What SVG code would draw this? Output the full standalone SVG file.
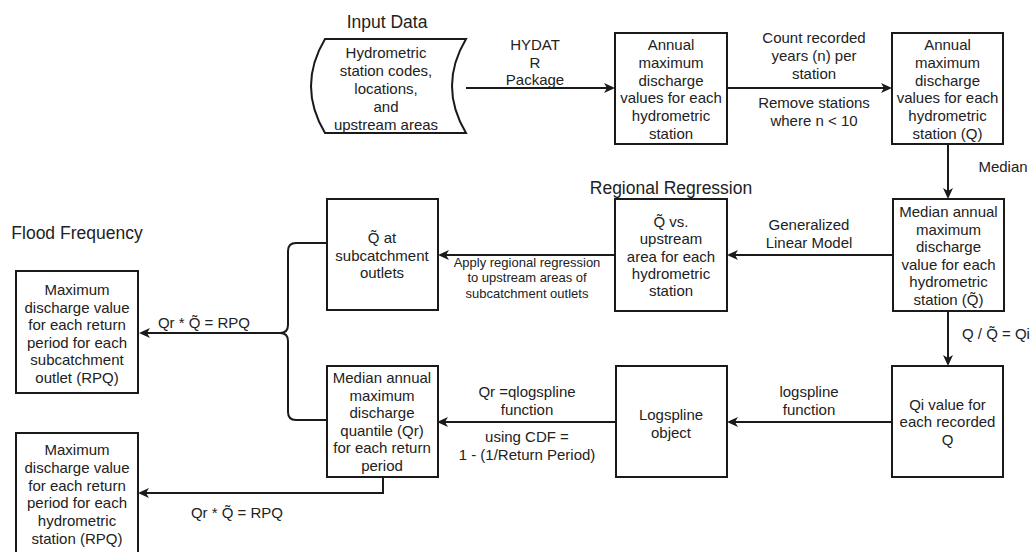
<svg xmlns="http://www.w3.org/2000/svg" width="1033" height="552" viewBox="0 0 1033 552">
<defs>
<style>
.box{fill:#fff;stroke:#1a1a1a;stroke-width:2}
.t{font-family:"Liberation Sans",Arial,sans-serif;font-size:15px;fill:#222;text-anchor:middle}
.s{font-family:"Liberation Sans",Arial,sans-serif;font-size:13px;fill:#222;text-anchor:middle}
.h{font-family:"Liberation Sans",Arial,sans-serif;font-size:17.5px;fill:#222;text-anchor:middle}
.c{fill:none;stroke:#1a1a1a;stroke-width:2;marker-end:url(#arr)}
.cn{fill:none;stroke:#1a1a1a;stroke-width:2}
</style>
<marker id="arr" markerUnits="userSpaceOnUse" markerWidth="11" markerHeight="10" refX="3" refY="5" orient="auto" viewBox="0 0 11 10">
<path d="M0,0 L11,5 L0,10 L3,5 Z" fill="#1a1a1a"/>
</marker>
</defs>
<rect width="1033" height="552" fill="#fff"/>

<g id="titles">
<text class="h" x="387" y="28">Input Data</text>
<text class="h" x="671" y="194">Regional Regression</text>
<text class="h" x="77" y="239">Flood Frequency</text>
</g>

<g id="connectors">
<path class="c" d="M466,88 H607"/>
<path class="c" d="M727,88 H884"/>
<path class="c" d="M948,144 V191"/>
<path class="c" d="M893,255 H735"/>
<path class="c" d="M615,255 H446"/>
<path class="cn" d="M327,243 H296 Q288,243 288,251 V325 Q288,333 280,333"/>
<path class="c" d="M327,420 H296 Q288,420 288,412 V341 Q288,333 280,333 H147"/>
<path class="c" d="M948,311 V358"/>
<path class="c" d="M892,422 H735"/>
<path class="c" d="M616,422 H445"/>
<path class="c" d="M383,477 V493 H146"/>
</g>

<g id="edge-labels">
<text class="t" x="535" y="50">HYDAT<tspan x="535" dy="17.5">R</tspan><tspan x="535" dy="17.5">Package</tspan></text>
<text class="t" x="814" y="43">Count recorded<tspan x="814" dy="17.8">years (n) per</tspan><tspan x="814" dy="17.8">station</tspan></text>
<text class="t" x="814" y="108">Remove stations<tspan x="814" dy="17.8">where n &lt; 10</tspan></text>
<text class="t" x="1003" y="172">Median</text>
<text class="t" x="809" y="230">Generalized<tspan x="809" dy="17.8">Linear Model</tspan></text>
<text class="s" x="527" y="266.5">Apply regional regression<tspan x="527" dy="15.5">to upstream areas of</tspan><tspan x="527" dy="15.5">subcatchment outlets</tspan></text>
<text class="t" x="204" y="328">Qr * Q̃ = RPQ</text>
<text class="t" x="962" y="339" style="text-anchor:start">Q / Q̃ = Qi</text>
<text class="t" x="809" y="397">logspline<tspan x="809" dy="17.5">function</tspan></text>
<text class="t" x="527" y="397">Qr =qlogspline<tspan x="527" dy="17.5">function</tspan></text>
<text class="t" x="527" y="442">using CDF =<tspan x="527" dy="17.8">1 - (1/Return Period)</tspan></text>
<text class="t" x="237" y="518">Qr * Q̃ = RPQ</text>
</g>

<g id="input-data">
<path class="box" d="M325,39 L466,39 Q438,86 466,133 L325,133 Q297,86 325,39 Z"/>
<text class="t" x="386" y="58">Hydrometric<tspan x="386" dy="17.9">station codes,</tspan><tspan x="386" dy="17.9">locations,</tspan><tspan x="386" dy="17.9">and</tspan><tspan x="386" dy="17.9">upstream areas</tspan></text>
</g>

<g id="annual-max">
<rect class="box" x="615" y="33" width="112" height="111"/>
<text class="t" x="671" y="50">Annual<tspan x="671" dy="17.8">maximum</tspan><tspan x="671" dy="17.8">discharge</tspan><tspan x="671" dy="17.8">values for each</tspan><tspan x="671" dy="17.8">hydrometric</tspan><tspan x="671" dy="17.8">station</tspan></text>
</g>

<g id="annual-max-q">
<rect class="box" x="892" y="33" width="111" height="111"/>
<text class="t" x="947.5" y="50">Annual<tspan x="947.5" dy="17.8">maximum</tspan><tspan x="947.5" dy="17.8">discharge</tspan><tspan x="947.5" dy="17.8">values for each</tspan><tspan x="947.5" dy="17.8">hydrometric</tspan><tspan x="947.5" dy="17.8">station (Q)</tspan></text>
</g>

<g id="median-annual">
<rect class="box" x="893" y="199" width="111" height="112"/>
<text class="t" x="948.5" y="217">Median annual<tspan x="948.5" dy="17.6">maximum</tspan><tspan x="948.5" dy="17.6">discharge</tspan><tspan x="948.5" dy="17.6">value for each</tspan><tspan x="948.5" dy="17.6">hydrometric</tspan><tspan x="948.5" dy="17.6">station (Q̃)</tspan></text>
</g>

<g id="q-vs-area">
<rect class="box" x="615" y="199" width="112" height="112"/>
<text class="t" x="671" y="227">Q̃ vs.<tspan x="671" dy="17.3">upstream</tspan><tspan x="671" dy="17.3">area for each</tspan><tspan x="671" dy="17.3">hydrometric</tspan><tspan x="671" dy="17.3">station</tspan></text>
</g>

<g id="q-subcatchment">
<rect class="box" x="327" y="199" width="111" height="111"/>
<text class="t" x="382" y="243">Q̃ at<tspan x="382" dy="17.5">subcatchment</tspan><tspan x="382" dy="17.5">outlets</tspan></text>
</g>

<g id="rpq-subcatchment">
<rect class="box" x="16" y="271" width="122" height="122"/>
<text class="t" x="77" y="295">Maximum<tspan x="77" dy="17.6">discharge value</tspan><tspan x="77" dy="17.6">for each return</tspan><tspan x="77" dy="17.6">period for each</tspan><tspan x="77" dy="17.6">subcatchment</tspan><tspan x="77" dy="17.6">outlet (RPQ)</tspan></text>
</g>

<g id="median-quantile">
<rect class="box" x="327" y="366" width="111" height="111"/>
<text class="t" x="382" y="383">Median annual<tspan x="382" dy="17.6">maximum</tspan><tspan x="382" dy="17.6">discharge</tspan><tspan x="382" dy="17.6">quantile (Qr)</tspan><tspan x="382" dy="17.6">for each return</tspan><tspan x="382" dy="17.6">period</tspan></text>
</g>

<g id="rpq-station">
<rect class="box" x="16" y="433" width="122" height="130"/>
<text class="t" x="77" y="455">Maximum<tspan x="77" dy="17.8">discharge value</tspan><tspan x="77" dy="17.8">for each return</tspan><tspan x="77" dy="17.8">period for each</tspan><tspan x="77" dy="17.8">hydrometric</tspan><tspan x="77" dy="17.8">station (RPQ)</tspan></text>
</g>

<g id="logspline-object">
<rect class="box" x="616" y="366" width="111" height="111"/>
<text class="t" x="671" y="420">Logspline<tspan x="671" dy="17.5">object</tspan></text>
</g>

<g id="qi-value">
<rect class="box" x="892" y="366" width="111" height="111"/>
<text class="t" x="947.5" y="410">Qi value for<tspan x="947.5" dy="17.3">each recorded</tspan><tspan x="947.5" dy="17.3">Q</tspan></text>
</g>
</svg>
